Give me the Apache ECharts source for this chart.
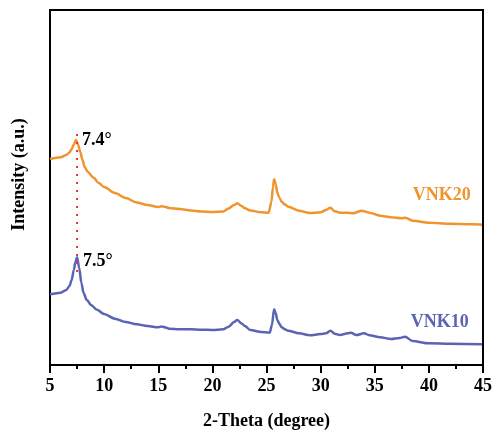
<!DOCTYPE html>
<html>
<head>
<meta charset="utf-8">
<script src="https://cdn.jsdelivr.net/npm/echarts@6/dist/echarts.min.js"></script>
<style>
  html, body { margin: 0; padding: 0; background: #fff; }
  #chart { width: 498px; height: 442px; }
</style>
</head>
<body>
<div id="chart"></div>
<script>
// XRD patterns, 2θ in degrees vs. intensity (a.u., curves offset vertically)
const vnk20Theta = [5, 6, 6.5, 6.8, 7.0, 7.2, 7.4, 7.6, 7.8, 8.0, 8.2, 8.5, 9, 9.5, 10, 11, 12, 13, 14, 15, 15.3, 15.7, 16, 17, 18, 19, 20, 21, 21.5, 22.0, 22.3, 22.7, 23, 23.5, 24.5, 25.2, 25.45, 25.6, 25.7, 25.85, 26.0, 26.2, 26.4, 26.7, 27, 28, 29, 30, 30.5, 30.9, 31.3, 31.8, 32.5, 33, 33.8, 34.5, 35.5, 36.5, 37.5, 37.8, 38.5, 40, 42, 44, 45];
const vnk20Int = [206, 207.7, 210, 212.5, 216, 220.5, 225, 220, 213, 205, 198, 193, 187.5, 182, 178, 172, 167, 162.5, 160, 158, 158.8, 158, 157, 156, 154.5, 153.5, 153, 153.5, 156.5, 160, 161.7, 159, 156.7, 154.5, 152.7, 152.3, 163, 178, 185.7, 181, 172, 167, 163.3, 160.5, 158.3, 154.3, 152, 152.7, 155, 157.3, 153.8, 152.3, 152.3, 151.7, 154.3, 152.3, 149.3, 147.7, 146.7, 147.3, 144.3, 142.3, 141.3, 140.7, 140.3];

const vnk10Theta = [5, 6, 6.5, 6.8, 7.0, 7.2, 7.35, 7.5, 7.7, 7.9, 8.1, 8.4, 8.8, 9.3, 10, 11, 12, 13, 14, 15, 15.3, 15.7, 16, 17, 18, 19, 20, 21, 21.5, 22.0, 22.3, 22.7, 23, 23.5, 24.5, 25.3, 25.5, 25.7, 25.85, 26.0, 26.2, 26.4, 26.7, 27, 28, 29, 30, 30.5, 30.9, 31.3, 31.8, 32.5, 32.8, 33.3, 34.0, 34.5, 35.5, 36.5, 37.3, 37.8, 38.5, 40, 42, 45];
const vnk10Int = [70.7, 72.3, 75, 79, 85, 95, 103, 107.7, 97, 82, 72, 65, 60, 55.5, 51, 46.3, 43, 40.7, 39, 37.7, 38.5, 37.5, 36.3, 35.7, 35.7, 35.3, 35, 35.7, 38.3, 43, 45, 41.5, 39, 35, 33, 32.3, 40, 55.7, 52, 45, 41, 37.7, 35.8, 34.3, 31.7, 29.7, 31, 31.7, 34.3, 31.3, 30, 31.7, 32.3, 29.9, 31.7, 29.8, 27.7, 26, 27, 28.3, 24, 21.7, 21.3, 20.7];

// Low-angle reflection positions and the guide line joining them
const peakTheta = [7.4, 7.5];
const peakLabels = ['7.4°', '7.5°'];
const guideTheta = 7.5;
const guideRange = [93, 237];

const xTicks = [5, 10, 15, 20, 25, 30, 35, 40, 45];
const yRange = [0, 355];
const seriesNames = ['VNK20', 'VNK10'];

const ORANGE = '#f0942f';
const BLUE = '#5b64b3';
const FONT = '"Liberation Serif", "Times New Roman", serif';

const zip = (xs, ys) => xs.map((x, i) => [x, ys[i]]);
const peakValue = (xs, ys, t) => ys[xs.indexOf(t)];

const xMin = xTicks[0];
const xMax = xTicks[xTicks.length - 1];

const chart = echarts.init(document.getElementById('chart'));

chart.setOption({
  animation: false,
  grid: { left: 50, right: 15, top: 10, bottom: 77, show: true, borderColor: '#000', borderWidth: 2 },
  xAxis: {
    type: 'value',
    min: xMin,
    max: xMax,
    interval: 5,
    name: '2-Theta (degree)',
    nameLocation: 'middle',
    nameGap: 47,
    nameTextStyle: { fontFamily: FONT, fontWeight: 'bold', fontSize: 18, color: '#000' },
    axisLine: { show: true, onZero: false, lineStyle: { color: '#000', width: 2 } },
    axisTick: { show: true, inside: false, length: 8, lineStyle: { color: '#000', width: 2 } },
    minorTick: { show: true, splitNumber: 2, length: 4, lineStyle: { color: '#000', width: 2 } },
    axisLabel: { fontFamily: FONT, fontWeight: 'bold', fontSize: 18, color: '#000', margin: 12 },
    splitLine: { show: false }
  },
  yAxis: {
    type: 'value',
    min: yRange[0],
    max: yRange[1],
    name: 'Intensity (a.u.)',
    nameLocation: 'middle',
    nameGap: 22,
    nameTextStyle: { fontFamily: FONT, fontWeight: 'bold', fontSize: 18, color: '#000', padding: [0, 0, 0, 26] },
    axisLine: { show: true, onZero: false, lineStyle: { color: '#000', width: 2 } },
    axisTick: { show: false },
    axisLabel: { show: false },
    splitLine: { show: false }
  },
  series: [
    {
      name: seriesNames[0],
      type: 'line',
      data: zip(vnk20Theta, vnk20Int),
      showSymbol: false,
      smooth: 0.3,
      smoothMonotone: 'x',
      lineStyle: { color: ORANGE, width: 2.5 },
      markPoint: {
        symbol: 'circle', symbolSize: 0, silent: true,
        data: [
          {
            coord: [peakTheta[0], peakValue(vnk20Theta, vnk20Int, peakTheta[0])],
            label: { show: true, formatter: peakLabels[0], position: 'right', distance: 6,
                     fontFamily: FONT, fontWeight: 'bold', fontSize: 18, color: '#000' }
          },
          {
            coord: [41.2, 170],
            label: { show: true, formatter: seriesNames[0], position: 'inside',
                     fontFamily: FONT, fontWeight: 'bold', fontSize: 18, color: ORANGE }
          }
        ]
      }
    },
    {
      name: seriesNames[1],
      type: 'line',
      data: zip(vnk10Theta, vnk10Int),
      showSymbol: false,
      smooth: 0.3,
      smoothMonotone: 'x',
      lineStyle: { color: BLUE, width: 2.5 },
      markPoint: {
        symbol: 'circle', symbolSize: 0, silent: true,
        data: [
          {
            coord: [peakTheta[1], peakValue(vnk10Theta, vnk10Int, peakTheta[1])],
            label: { show: true, formatter: peakLabels[1], position: 'right', distance: 6, offset: [0, 4],
                     fontFamily: FONT, fontWeight: 'bold', fontSize: 18, color: '#000' }
          },
          {
            coord: [41.0, 43],
            label: { show: true, formatter: seriesNames[1], position: 'inside',
                     fontFamily: FONT, fontWeight: 'bold', fontSize: 18, color: BLUE }
          }
        ]
      }
    },
    {
      type: 'line',
      data: [[guideTheta, guideRange[0]], [guideTheta, guideRange[1]]],
      showSymbol: false,
      silent: true,
      z: 5,
      lineStyle: { color: '#e8313a', width: 2, type: [2, 6] }
    }
  ]
});

// Closed frame around the plotting area, placed from the axis extents
const corner0 = chart.convertToPixel({ gridIndex: 0 }, [xMin, yRange[0]]);
const corner1 = chart.convertToPixel({ gridIndex: 0 }, [xMax, yRange[1]]);
chart.setOption({
  graphic: [{
    type: 'polyline',
    z: 100,
    silent: true,
    shape: { points: [[corner1[0], corner0[1]], [corner1[0], corner1[1]], [corner0[0], corner1[1]]] },
    style: { stroke: '#000', lineWidth: 2, fill: null }
  }]
});
</script>
</body>
</html>
